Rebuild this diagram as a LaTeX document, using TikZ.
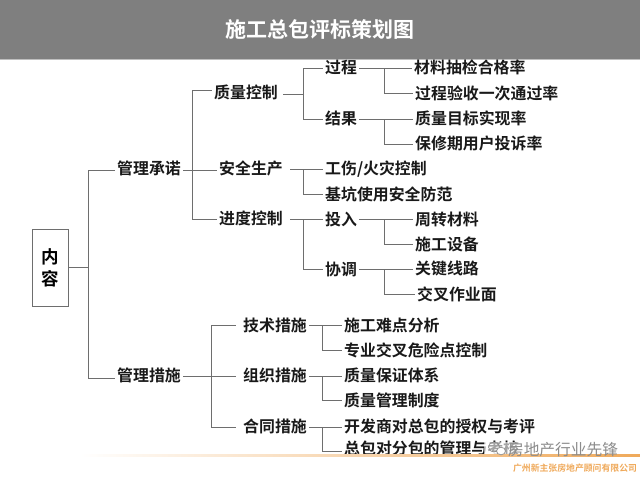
\documentclass[tikz,border=0pt]{standalone}
\usepackage{xcolor}
\usepackage{fontspec}
\setmainfont{Noto Sans CJK SC}[BoldFont={* Bold}]
\definecolor{barGray}{HTML}{7F7F7F}
\definecolor{linkGray}{HTML}{6E6E6E}
\definecolor{footOrange}{HTML}{EFA95A}
\tikzset{
  item/.style={anchor=west,inner xsep=2pt,inner ysep=0pt,font=\fontsize{15.9}{18}\selectfont\bfseries,text=black!90},
  link/.style={draw=linkGray,line width=1pt}
}
\begin{document}
\begin{tikzpicture}[x=1pt,y=-1pt]
\useasboundingbox (0,0) rectangle (640,480);
\fill[barGray] (0,0) rectangle (640,59);
\fill[black!25] (0,59) rectangle (640,60);
\node[text=white,font=\fontsize{21}{24}\selectfont\bfseries] (title) at (320,29) {施工总包评标策划图};
\node[draw=linkGray,line width=1pt,minimum width=36pt,minimum height=77pt,inner sep=0pt,align=center,font=\fontsize{17.5}{22}\selectfont\bfseries] (neirong) at (50,267.5) {内\\容};
\coordinate (busA) at (88,0);
\coordinate (busB) at (192,0);
\coordinate (busC) at (211,0);
\coordinate (busD) at (303,0);
\coordinate (busE) at (384,0);
\coordinate (busF) at (322,0);
\node[item] (chengnuo) at (115,168) {管理承诺};
\node[item] (cuoshi) at (115,375.5) {管理措施};
\node[item] (zhiliang) at (212,92) {质量控制};
\node[item] (anquan) at (217,168) {安全生产};
\node[item] (jindu) at (217,218.5) {进度控制};
\node[item] (guocheng) at (323,67.5) {过程};
\node[item] (jieguo) at (323,118.5) {结果};
\node[item] (touru) at (323,219) {投入};
\node[item] (xietiao) at (323,269) {协调};
\node[item] (cailiao) at (412,67.5) {材料抽检合格率};
\node[item] (yanshou) at (413,93) {过程验收一次通过率};
\node[item] (mubiao) at (413,118.5) {质量目标实现率};
\node[item] (baoxiu) at (413,143.5) {保修期用户投诉率};
\node[item] (gongshang) at (323,169) {工伤/火灾控制};
\node[item] (jikeng) at (323,194) {基坑使用安全防范};
\node[item] (zhouzhuan) at (413,219) {周转材料};
\node[item] (shebei) at (413,244) {施工设备};
\node[item] (guanjian) at (413,269) {关键线路};
\node[item] (jiaocha) at (415,294.5) {交叉作业面};
\node[item] (jishu) at (241,325) {技术措施};
\node[item] (zuzhi) at (241,375.5) {组织措施};
\node[item] (hetong) at (241,426) {合同措施};
\node[item] (nandian) at (342,325) {施工难点分析};
\node[item] (weixian) at (342,350) {专业交叉危险点控制};
\node[item] (baozheng) at (342,375.5) {质量保证体系};
\node[item] (zhidu) at (342,400.5) {质量管理制度};
\node[item] (kaifa) at (342,426) {开发商对总包的授权与考评};
\node[item] (fenbao) at (342,448.5) {总包对分包的管理与考核};
\draw[link] (neirong.east) -- (neirong.east -| busA) |- ([yshift=-2pt]chengnuo.west);
\draw[link] (neirong.east -| busA) |- ([yshift=-2.5pt]cuoshi.west);
\draw[link] ([yshift=-2pt]chengnuo.east) -- ([yshift=-2pt]anquan.west);
\draw[link] ([yshift=-2pt]chengnuo.east -| busB) |- ([yshift=2pt]zhiliang.west);
\draw[link] ([yshift=-2pt]chengnuo.east -| busB) |- ([yshift=-.5pt]jindu.west);
\draw[link] ([yshift=-.5pt]cuoshi.east) -- ([xshift=-5pt,yshift=-.5pt]zuzhi.west);
\draw[link] ([yshift=-.5pt]cuoshi.east -| busC) |- ([xshift=-5pt]jishu.west);
\draw[link] ([yshift=-.5pt]cuoshi.east -| busC) |- ([xshift=-5pt,yshift=-1pt]hetong.west);
\draw[link] ([xshift=3pt,yshift=-2pt]zhiliang.east) -- ([yshift=-2pt]zhiliang.east -| busD);
\draw[link] ([yshift=-.5pt]guocheng.west -| busD) |- ([yshift=-.5pt]guocheng.west);
\draw[link] ([yshift=-.5pt]guocheng.west -| busD) |- ([yshift=-1pt]jieguo.west);
\draw[link] ([xshift=5pt,yshift=-1pt]anquan.east) -- (gongshang.west);
\draw[link] (gongshang.west -| busD) |- (jikeng.west);
\draw[link] ([xshift=5pt,yshift=-.5pt]jindu.east) -- (touru.west);
\draw[link] (touru.west -| busD) |- (xietiao.west);
\draw[link] ([yshift=-.5pt]guocheng.east) -- ([yshift=-.5pt]cailiao.west);
\draw[link] ([yshift=-.5pt]guocheng.east -| busE) |- ([yshift=-.5pt]yanshou.west);
\draw[link] ([yshift=-1pt]jieguo.east) -- ([yshift=-1pt]mubiao.west);
\draw[link] ([yshift=-1pt]jieguo.east -| busE) |- ([yshift=-.5pt]baoxiu.west);
\draw[link] (touru.east) -- (zhouzhuan.west);
\draw[link] (touru.east -| busE) |- (shebei.west);
\draw[link] (xietiao.east) -- (guanjian.west);
\draw[link] (xietiao.east -| busE) |- (jiaocha.west);
\draw[link] (jishu.east) -- (nandian.west);
\draw[link] (jishu.east -| busF) |- (weixian.west);
\draw[link] ([yshift=-.5pt]zuzhi.east) -- ([yshift=-.5pt]baozheng.west);
\draw[link] ([yshift=-.5pt]zuzhi.east -| busF) |- (zhidu.west);
\draw[link] ([yshift=-1pt]hetong.east) -- ([yshift=-1pt]kaifa.west);
\draw[link] ([yshift=-1pt]hetong.east -| busF) |- ([yshift=-3pt]fenbao.west);
\shade[left color=white,right color=footOrange,middle color=footOrange!50] (80,454.5) rectangle (640,456);
\fill[white,opacity=.6] (484,442) rectangle (620,454);
\draw[black!45,line width=.7pt] (494,447) ellipse (5.5pt and 5pt);
\draw[black!45,line width=.7pt,fill=white] (501,451) ellipse (4.5pt and 3.8pt);
\node[text=black!45,font=\fontsize{15.7}{18}\selectfont,inner sep=0pt] (xianfeng) at (563,449.5) {房地产行业先锋};
\node[text=footOrange,font=\fontsize{8.85}{10}\selectfont\bfseries,inner sep=0pt] (gongsi) at (575,468) {广州新主张房地产顾问有限公司};
\end{tikzpicture}
\end{document}
